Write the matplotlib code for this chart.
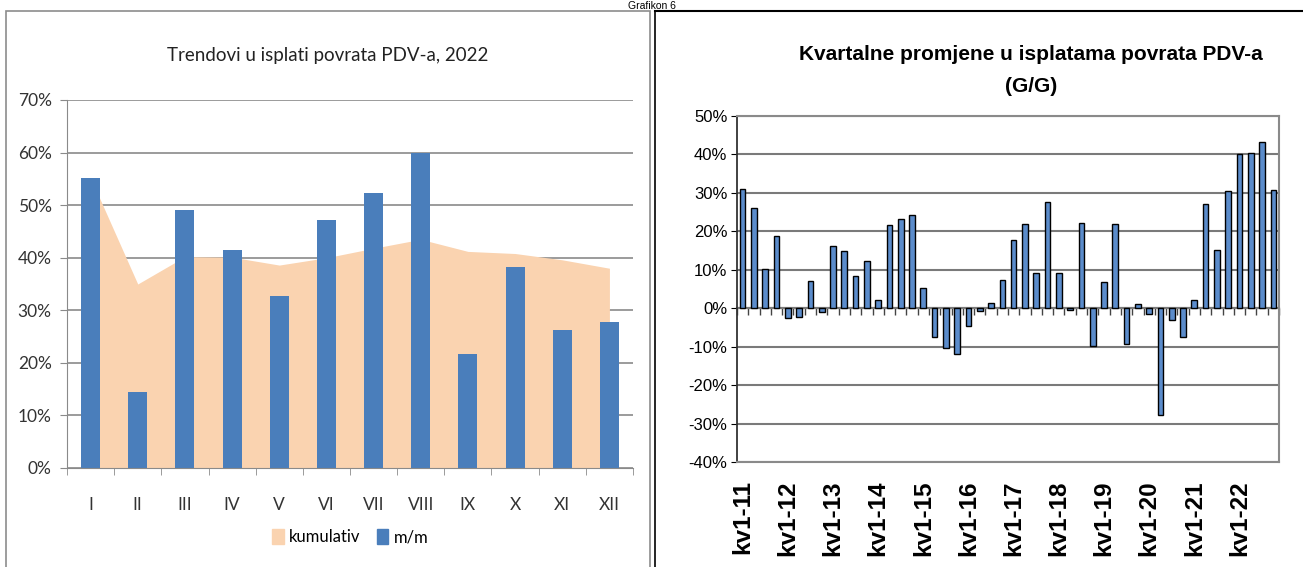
import matplotlib
matplotlib.use("Agg")
import matplotlib.pyplot as plt
from matplotlib.patches import Rectangle, Patch
from matplotlib.lines import Line2D
from matplotlib.ticker import FixedLocator, FuncFormatter
import numpy as np

# ---------------- data ----------------
months = ['I', 'II', 'III', 'IV', 'V', 'VI', 'VII', 'VIII', 'IX', 'X', 'XI', 'XII']
mm = [55.2, 14.4, 49.1, 41.4, 32.8, 47.1, 52.4, 60.0, 21.7, 38.3, 26.2, 27.7]
kumulativ = [55.2, 35.0, 40.2, 40.1, 38.6, 40.0, 41.8, 43.5, 41.2, 40.8, 39.6, 38.0]

years = ['11', '12', '13', '14', '15', '16', '17', '18', '19', '20', '21', '22']
quarter_labels = ['kv1-' + y for y in years]
quarterly = [31.0, 26.0, 10.2, 18.7, -2.6, -2.4, 7.1, -1.0,
             16.2, 14.8, 8.5, 12.4, 2.1, 21.6, 23.1, 24.3,
             5.3, -7.5, -10.3, -12.0, -4.5, -0.7, 1.4, 7.4,
             17.8, 22.0, 9.1, 27.5, 9.1, -0.5, 22.2, -9.8,
             6.8, 21.9, -9.2, 1.0, -1.6, -27.9, -3.0, -7.5,
             2.1, 27.1, 15.1, 30.4, 40.0, 40.5, 43.2, 30.7]

W, H = 1303, 567
fig = plt.figure(figsize=(W / 100, H / 100), dpi=100)
fig.patch.set_facecolor('white')

def box(x0, y0, x1, y1):
    # pixel box (top-left origin) -> figure fraction rect
    return [x0 / W, 1 - y1 / H, (x1 - x0) / W, (y1 - y0) / H]

narrow = ['Lato', 'DejaVu Sans']
arial = ['Liberation Sans', 'DejaVu Sans']
pct = FuncFormatter(lambda v, p: f'{v:.0f}%')

# panel frames
fig.add_artist(Rectangle((6 / W, -0.05), (650 - 6) / W, 1 - 11 / H + 0.05,
                         transform=fig.transFigure, fill=False, edgecolor='#8c8c8c', lw=1.2))
fig.add_artist(Line2D([655 / W, 1], [1 - 11 / H, 1 - 11 / H], transform=fig.transFigure,
                      color='black', lw=1.5))
fig.add_artist(Line2D([655 / W, 655 / W], [0, 1 - 11 / H], transform=fig.transFigure,
                      color='black', lw=1.2))
fig.text(0.5, 1 - 1 / H, 'Grafikon 6', ha='center', va='top', fontsize=7.5,
         family=arial, color='black')

# ---------------- left chart ----------------
axL = fig.add_axes(box(67, 100, 633, 468))
x = np.arange(len(months))
axL.fill_between(x, 0, kumulativ, color='#FAD3B0', lw=0, zorder=1, label='kumulativ')
axL.bar(x, mm, width=0.4, color='#4A7EBB', zorder=2, label='m/m')
axL.set_xlim(-0.5, len(months) - 0.5)
axL.set_ylim(0, 70)
axL.yaxis.set_major_locator(FixedLocator(np.arange(0, 71, 10)))
axL.yaxis.set_major_formatter(pct)
axL.grid(axis='y', color='#8a8a8a', lw=1.2, zorder=0)
axL.set_axisbelow(True)
axL.set_xticks(x)
axL.set_xticklabels(months)
axL.xaxis.set_minor_locator(FixedLocator(np.arange(-0.5, len(months), 1)))
axL.tick_params(axis='x', which='major', length=0, pad=21, labelsize=12.5, labelcolor='#333333')
axL.tick_params(axis='x', which='minor', length=5, color='#8a8a8a', direction='out')
axL.tick_params(axis='y', length=5, color='#8a8a8a', labelsize=12.5, labelcolor='#333333', pad=6)
for lab in axL.get_xticklabels() + axL.get_yticklabels():
    lab.set_family(narrow)
for s in ['top', 'right']:
    axL.spines[s].set_visible(False)
axL.spines['left'].set_color('#8a8a8a')
axL.spines['bottom'].set_color('#8a8a8a')
fig.text(328 / W, 1 - 55 / H, 'Trendovi u isplati povrata PDV-a, 2022', family=narrow,
         fontsize=13.5, color='#222222', ha='center', va='center')
handles = [Patch(color='#FAD3B0'), Patch(color='#4A7EBB')]
axL.legend(handles, ['kumulativ', 'm/m'], loc='upper center', bbox_to_anchor=(0.5, -0.125),
           ncol=2, frameon=False, prop={'family': narrow, 'size': 12},
           handlelength=0.7, handleheight=1.0, handletextpad=0.3, columnspacing=1.0)

# ---------------- right chart ----------------
axR = fig.add_axes(box(737, 116, 1279, 462))
q = np.arange(len(quarterly))
axR.bar(q, quarterly, width=0.5, color='#5B8CCB', edgecolor='black', lw=1.0, zorder=3)
axR.set_xlim(-0.5, len(quarterly) - 0.5)
axR.set_ylim(-40, 50)
axR.yaxis.set_major_locator(FixedLocator(np.arange(-40, 51, 10)))
axR.yaxis.set_major_formatter(pct)
axR.grid(axis='y', color='#7a7a7a', lw=1.5, zorder=0)
axR.set_axisbelow(True)
axR.set_xticks(q[::4])
axR.set_xticklabels(quarter_labels, rotation=90, family=arial, fontweight='bold', fontsize=17.5)
axR.tick_params(axis='x', length=0, pad=13)
axR.tick_params(axis='y', length=4, color='black', labelsize=12, pad=3)
for lab in axR.get_yticklabels():
    lab.set_family(arial)
for s in ['top', 'right', 'bottom']:
    axR.spines[s].set_color('#8a8a8a')
    axR.spines[s].set_linewidth(1.5)
axR.spines['left'].set_color('#333333')
axR.spines['left'].set_linewidth(1.3)
# zero axis with tick marks between categories
sec = axR.secondary_xaxis(40 / 90)
sec.set_xticks(np.arange(-0.5, len(quarterly), 1))
sec.tick_params(axis='x', direction='out', length=5, color='#444444', labelbottom=False,
                labeltop=False, width=1.0)
sec.spines['bottom'].set_color('#333333')
sec.spines['bottom'].set_linewidth(1.5)
sec.xaxis.set_ticks_position('bottom')
sec.set_xticklabels([])
fig.text(1031 / W, 1 - 55 / H, 'Kvartalne promjene u isplatama povrata PDV-a', family=arial,
         fontweight='bold', fontsize=15, ha='center', va='center')
fig.text(1031 / W, 1 - 87 / H, '(G/G)', family=arial,
         fontweight='bold', fontsize=15, ha='center', va='center')

fig.savefig('out.png', dpi=100, facecolor='white')
